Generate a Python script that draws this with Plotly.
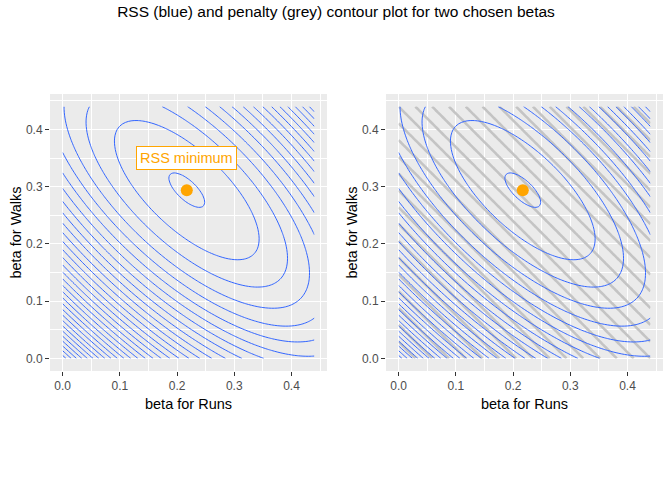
import numpy as np
import plotly.graph_objects as go

# grid of the two betas (same for both axes)
beta_runs = np.linspace(0, 0.44, 89)
beta_walks = np.linspace(0, 0.44, 89)

# RSS surface: minimum and quadratic shape
beta_min = [0.217, 0.294]
rss_quad = [1.0, 0.73, 1.08]   # a, b, c of a*u^2 + 2b*u*v + c*v^2
rss_first_level = 0.0005
rss_step = 0.0076

# L1 penalty levels
pen_step = 0.88 / 30

bx, by = np.meshgrid(beta_runs, beta_walks)
u = bx - beta_min[0]
v = by - beta_min[1]
rss = rss_quad[0]*u**2 + 2*rss_quad[1]*u*v + rss_quad[2]*v**2
penalty = np.abs(bx) + np.abs(by)

blue = "#3366FF"
grey = "#C4C4C4"
orange = "#FFA500"

fig = go.Figure()

panels = [("x", "y", False), ("x2", "y2", True)]
for xa, ya, with_pen in panels:
    if with_pen:
        fig.add_trace(go.Contour(x=beta_runs, y=beta_walks, z=penalty, xaxis=xa, yaxis=ya,
                                 contours=dict(coloring="lines", start=pen_step, end=0.88, size=pen_step),
                                 colorscale=[[0, grey], [1, grey]], line=dict(width=2.6),
                                 showscale=False, hoverinfo="skip"))
    fig.add_trace(go.Contour(x=beta_runs, y=beta_walks, z=rss, xaxis=xa, yaxis=ya,
                             contours=dict(coloring="lines", start=rss_first_level, end=0.3, size=rss_step),
                             colorscale=[[0, blue], [1, blue]], line=dict(width=1),
                             showscale=False, hoverinfo="skip"))
    fig.add_trace(go.Scatter(x=[beta_min[0]], y=[beta_min[1]], xaxis=xa, yaxis=ya, mode="markers",
                             marker=dict(color=orange, size=12), showlegend=False))

fig.add_annotation(x=beta_min[0], y=0.351, xref="x", yref="y", text="RSS minimum", showarrow=False,
                   font=dict(color=orange, size=14.5, family="Arial"), bgcolor="white",
                   bordercolor=orange, borderwidth=1, borderpad=3)

ax_common = dict(range=[-0.022, 0.462], showgrid=True, gridcolor="white", gridwidth=1.1,
                 minor=dict(dtick=0.05, showgrid=True, gridcolor="white", gridwidth=0.5),
                 dtick=0.1, tick0=0, tickformat=".1f", ticks="outside", ticklen=4, tickcolor="#333333",
                 tickfont=dict(size=12, color="#4D4D4D", family="Arial"), zeroline=False,
                 showline=False, automargin=False,
                 title_font=dict(size=14.5, color="black", family="Arial"))

fig.update_layout(
    width=672, height=480, margin=dict(l=0, r=0, t=0, b=0),
    paper_bgcolor="white", plot_bgcolor="#EBEBEB", showlegend=False,
    title=dict(text="RSS (blue) and penalty (grey) contour plot for two chosen betas",
               x=0.5, xanchor="center", y=0.975, yanchor="middle",
               font=dict(size=15.5, color="black", family="Arial")),
    xaxis=dict(ax_common, domain=[50/672, 327/672], anchor="y", title=dict(text="beta for Runs", standoff=6)),
    yaxis=dict(ax_common, domain=[1-371/480, 1-94/480], anchor="x", title=dict(text="beta for Walks", standoff=0)),
    xaxis2=dict(ax_common, domain=[386/672, 663/672], anchor="y2", title=dict(text="beta for Runs", standoff=6)),
    yaxis2=dict(ax_common, domain=[1-371/480, 1-94/480], anchor="x2", title=dict(text="beta for Walks", standoff=0)),
)

fig.write_html("out.html", config={"displayModeBar": False},
               post_script="document.body.style.margin='0';")
